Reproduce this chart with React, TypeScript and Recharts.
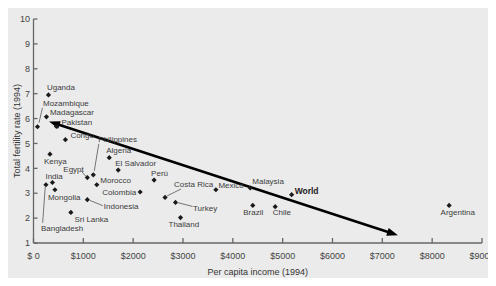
import { Label, ReferenceLine, Scatter, ScatterChart, XAxis, YAxis } from "recharts";

const countries = [
  "Uganda", "Mozambique", "Madagascar", "Pakistan", "Congo", "Philippines", "Kenya",
  "Algeria", "El Salvador", "Egypt", "Morocco", "India", "Bangladesh", "Mongolia",
  "Colombia", "Perú", "Indonesia", "Sri Lanka", "Costa Rica", "Turkey", "Thailand",
  "Mexico", "Malaysia", "World", "Brazil", "Chile", "Argentina",
];
const income = [
  300, 80, 260, 460, 640, 1200, 330,
  1520, 1700, 1080, 1270, 380, 250, 430,
  2140, 2420, 1080, 750, 2640, 2850, 2950,
  3660, 4350, 5180, 4400, 4850, 8340,
];
const fertility = [
  6.95, 5.67, 6.07, 5.68, 5.15, 3.74, 4.57,
  4.43, 3.93, 3.63, 3.34, 3.43, 3.34, 3.14,
  3.05, 3.53, 2.74, 2.23, 2.83, 2.63, 2.02,
  3.14, 3.21, 2.94, 2.51, 2.46, 2.51,
];
const xTicks = [0, 1000, 2000, 3000, 4000, 5000, 6000, 7000, 8000, 9000];
const xTickLabels = ["$ 0", "$1000", "$2000", "$3000", "$4000", "$5000", "$6000", "$7000", "$8000", "$9000"];
const yTicks = [1, 2, 3, 4, 5, 6, 7, 8, 9, 10];
const trendArrow = [
  { x: 311, y: 5.88 },
  { x: 7313, y: 1.31 },
];

const data = countries.map((name, i) => ({ name, x: income[i], y: fertility[i] }));

// label placement relative to the marker: [dx, dy, anchor, leader line]
type Place = { dx: number; dy: number; anchor?: "start" | "end"; lead?: [number, number, number, number] };
const placement: Record<string, Place> = {
  Uganda: { dx: -1.5, dy: -8 },
  Mozambique: { dx: 5.5, dy: -24, lead: [1.5, -4, 5, -19] },
  Madagascar: { dx: 3.5, dy: -5 },
  Pakistan: { dx: 5, dy: -4 },
  Congo: { dx: 5, dy: -5 },
  Philippines: { dx: 5, dy: -36, lead: [1, -4, 5.5, -31] },
  Kenya: { dx: -6, dy: 7 },
  Algeria: { dx: -3, dy: -7 },
  "El Salvador": { dx: -3, dy: -7 },
  Egypt: { dx: -24, dy: -8.5, lead: [-1.3, -1, -6, -6.5] },
  Morocco: { dx: 3.5, dy: -5 },
  India: { dx: -7, dy: -6 },
  Bangladesh: { dx: -5, dy: 43, lead: [-0.7, 2, -3.3, 38] },
  Mongolia: { dx: -7, dy: 7 },
  Colombia: { dx: -4, dy: 0, anchor: "end" },
  Perú: { dx: -3, dy: -7 },
  Indonesia: { dx: 16.5, dy: 7, lead: [2.5, 0.7, 15.5, 6] },
  "Sri Lanka": { dx: 3.5, dy: 6.5 },
  "Costa Rica": { dx: 9, dy: -13.5, lead: [2, -1.5, 16, -8.5] },
  Turkey: { dx: 17.5, dy: 5.5, lead: [1.5, 0, 17, 4] },
  Thailand: { dx: -12, dy: 7 },
  Mexico: { dx: 2.5, dy: -5 },
  Malaysia: { dx: 2, dy: -6.5 },
  World: { dx: 3, dy: -4 },
  Brazil: { dx: -9.5, dy: 7 },
  Chile: { dx: -2.5, dy: 6 },
  Argentina: { dx: -8.5, dy: 6.7 },
};

const FONT = "'Liberation Sans', Arial, sans-serif";

function CountryMark(props: any) {
  const { cx, cy, payload } = props;
  const p = placement[payload.name] || { dx: 4, dy: -4 };
  const r = 2.6;
  const bold = payload.name === "World";
  return (
    <g>
      <path d={`M${cx},${cy - r}L${cx + r},${cy}L${cx},${cy + r}L${cx - r},${cy}Z`} fill="#1a1a1a" />
      {p.lead && (
        <line
          x1={cx + p.lead[0]}
          y1={cy + p.lead[1]}
          x2={cx + p.lead[2]}
          y2={cy + p.lead[3]}
          stroke="#555"
          strokeWidth={0.8}
        />
      )}
      <text
        x={cx + p.dx}
        y={cy + p.dy}
        dy="0.35em"
        textAnchor={p.anchor || "start"}
        fontSize={bold ? 8.5 : 8}
        fontWeight={bold ? 700 : 400}
        fill={bold ? "#222" : "#3c3c3c"}
        fontFamily={FONT}
      >
        {payload.name}
      </text>
    </g>
  );
}

function Arrow(props: any) {
  const { x1, y1, x2, y2 } = props;
  if ([x1, y1, x2, y2].some((v) => typeof v !== "number")) return null;
  const ang = Math.atan2(y2 - y1, x2 - x1);
  const len = 11;
  const half = 4;
  const head = (tx: number, ty: number, dir: number) => {
    const bx = tx - dir * len * Math.cos(ang);
    const by = ty - dir * len * Math.sin(ang);
    const nx = -Math.sin(ang) * half;
    const ny = Math.cos(ang) * half;
    return `M${tx},${ty}L${bx + nx},${by + ny}L${bx - nx},${by - ny}Z`;
  };
  const inset = 8;
  return (
    <g>
      <line
        x1={x1 + inset * Math.cos(ang)}
        y1={y1 + inset * Math.sin(ang)}
        x2={x2 - inset * Math.cos(ang)}
        y2={y2 - inset * Math.sin(ang)}
        stroke="#000"
        strokeWidth={2.6}
      />
      <path d={head(x1, y1, -1)} fill="#000" />
      <path d={head(x2, y2, 1)} fill="#000" />
    </g>
  );
}

export default function App() {
  const tickStyle = { fontSize: 9, fill: "#444", fontFamily: FONT };
  return (
    <div style={{ position: "relative", width: 496, height: 286, margin: -8, background: "#f4f4f4", overflow: "hidden" }}>
      <div
        style={{
          position: "absolute",
          left: 4,
          top: 6,
          right: 0,
          bottom: 0,
          background: "#ebebeb",
          borderTop: "1.5px solid #8e8e8e",
          borderLeft: "1.5px solid #8e8e8e",
        }}
      />
      <div style={{ position: "absolute", left: 0, top: 0 }}>
        <ScatterChart width={496} height={286} margin={{ top: 19, right: 14, bottom: 0, left: 0 }}>
          <XAxis
            type="number"
            dataKey="x"
            domain={[0, 9000]}
            ticks={xTicks}
            tickFormatter={(v: number) => xTickLabels[xTicks.indexOf(v)] ?? String(v)}
            height={43}
            tickSize={-5}
            tickMargin={15}
            stroke="#666"
            strokeWidth={1.3}
            tick={tickStyle}
            interval={0}
          >
            <Label
              value="Per capita income (1994)"
              position="insideBottom"
              offset={11}
              style={{ fontSize: 9, fill: "#333", fontFamily: FONT }}
            />
          </XAxis>
          <YAxis
            type="number"
            dataKey="y"
            domain={[1, 10]}
            ticks={yTicks}
            width={33.5}
            tickSize={-4}
            tickMargin={7.5}
            stroke="#666"
            strokeWidth={1.3}
            tick={tickStyle}
            interval={0}
          >
            <Label
              value="Total fertility rate (1994)"
              angle={-90}
              position="center"
              style={{ fontSize: 9, fill: "#333", fontFamily: FONT, textAnchor: "middle" }}
            />
          </YAxis>
          <Scatter data={data} shape={CountryMark} isAnimationActive={false} />
          <ReferenceLine segment={trendArrow} shape={Arrow} ifOverflow="visible" />
        </ScatterChart>
      </div>
    </div>
  );
}
